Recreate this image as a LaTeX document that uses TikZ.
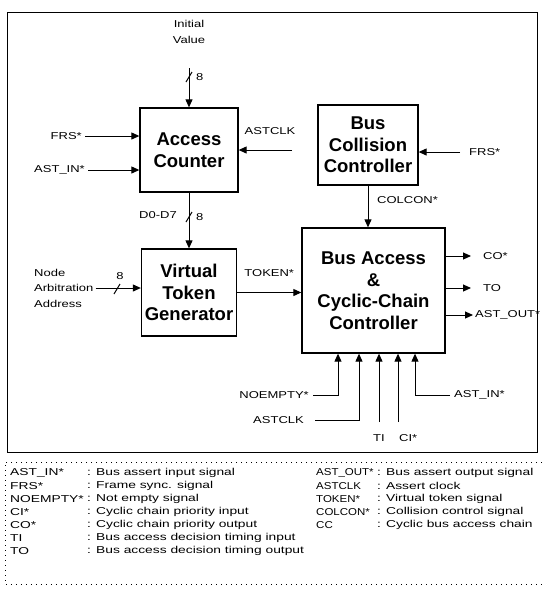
\documentclass[tikz,border=0pt]{standalone}
\usepackage{fontspec}
\setmainfont{Liberation Sans}
\newfontfamily\sigfont[FakeStretch=1.3]{Liberation Sans}
\newfontfamily\lgdfont[FakeStretch=1.38]{Liberation Sans}
\newfontfamily\lgnfont[FakeStretch=1.15]{Liberation Sans}
\usetikzlibrary{arrows.meta}

\begin{document}
\begin{tikzpicture}[x=1pt,y=-1pt,
    blk/.style={draw,line width=1.3pt,align=center,inner sep=0pt,
      font=\fontsize{18.5}{21.5}\selectfont\bfseries},
    sig/.style={font=\sigfont\fontsize{10}{15.5}\selectfont,inner sep=1pt},
    wire/.style={line width=1pt},
    arr/.style={wire,-{Triangle[length=8pt,width=7pt]}},
    lgd/.style={font=\lgdfont\fontsize{10}{12}\selectfont,inner sep=0pt,anchor=west}]
  \useasboundingbox (0,0) rectangle (542,598);
  % frame
  \draw[line width=1pt] (7,12) rectangle (537,452);

  % blocks
  \node[blk,minimum width=98pt,minimum height=84pt] (ac) at (189,150) {Access\\Counter};
  \node[blk,minimum width=95pt,minimum height=87pt] (vtg) at (189,292.5) {Virtual\\Token\\Generator};
  \node[blk,minimum width=100pt,minimum height=80pt] (bcc) at (368,145) {Bus\\Collision\\Controller};
  \node[blk,minimum width=143pt,minimum height=125pt] (bca) at (373.5,290.5)
    {Bus Access\\\&\\Cyclic-Chain\\Controller};

  % access counter inputs
  \node[sig,align=center] (iv) at (189,32) {Initial\\Value};
  \coordinate (ivend) at (189,68);
  \draw[arr] (ivend) -- (ac.north);
  \coordinate (s1) at (189,77);
  \draw[wire] ([shift={(-3,5)}]s1) -- ([shift={(3,-5)}]s1);
  \node[sig,anchor=west] (w1) at ([xshift=6pt]s1) {8};
  \node[sig,anchor=east] (frs1) at (83,136) {FRS*};
  \draw[arr] ([xshift=2pt]frs1.east) -- (frs1.east -| ac.west);
  \node[sig,anchor=east] (ai1) at (86,170) {AST\_IN*};
  \draw[arr] ([xshift=2pt]ai1.east) -- (ai1.east -| ac.west);
  \coordinate (ck1) at (292,150);
  \draw[arr] (ck1) -- (ck1 -| ac.east);
  \node[sig] (ckl1) at (270,131) {ASTCLK};

  % collision controller
  \node[sig,anchor=west] (frs2) at (468,152) {FRS*};
  \draw[arr] ([xshift=-8pt]frs2.west) -- (frs2.west -| bcc.east);
  \draw[arr] (bcc.south) -- (bcc.south |- bca.north);
  \node[sig,anchor=west] (cc) at (376,200) {COLCON*};

  % counter to token generator
  \draw[arr] (ac.south) -- (vtg.north);
  \coordinate (s2) at (189,217);
  \draw[wire] ([shift={(-3,5)}]s2) -- ([shift={(3,-5)}]s2);
  \node[sig,anchor=west] (w2) at ([xshift=6pt]s2) {8};
  \node[sig] (dd) at (158,215) {D0-D7};
  \node[sig,anchor=west,align=left] (naa) at (33,288) {Node\\Arbitration\\Address};
  \draw[arr] ([xshift=1pt]naa.east) -- (naa.east -| vtg.west);
  \coordinate (s3) at (117,289);
  \draw[wire] ([shift={(-3,5)}]s3) -- ([shift={(3,-5)}]s3);
  \node[sig] (w3) at (120,276) {8};
  \draw[arr] (vtg.east) -- (vtg.east -| bca.west) node[sig,midway,above=14pt] (tok) {TOKEN*};

  % outputs
  \node[sig,anchor=west] (co) at (482,256) {CO*};
  \draw[arr] (co.west -| bca.east) -- ([xshift=-11pt]co.west);
  \node[sig,anchor=west] (to) at (482,288) {TO};
  \draw[arr] (to.west -| bca.east) -- ([xshift=-11pt]to.west);
  \node[sig,anchor=west] (ao) at (474,315) {AST\_OUT*};
  \draw[arr] (ao.west -| bca.east) -- ([xshift=-1pt]ao.west);

  % bottom inputs
  \coordinate (xne) at (338,0);
  \coordinate (xck) at (359,0);
  \coordinate (xai) at (415,0);
  \node[sig,anchor=east] (ne) at (310,395) {NOEMPTY*};
  \draw[arr] ([xshift=3pt]ne.east) -| (xne |- bca.south);
  \node[sig,anchor=east] (ck2) at (305,420) {ASTCLK};
  \draw[arr] ([xshift=10pt]ck2.east) -| (xck |- bca.south);
  \coordinate (ti0) at (379,422);
  \draw[arr] (ti0) -- (ti0 |- bca.south);
  \node[sig] (ti) at (379,438) {TI};
  \coordinate (ci0) at (398,422);
  \draw[arr] (ci0) -- (ci0 |- bca.south);
  \node[sig,anchor=west] (ci) at (398,438) {CI*};
  \node[sig,anchor=west] (ai2) at (453,395) {AST\_IN*};
  \draw[arr] ([xshift=-3pt]ai2.west) -| (xai |- bca.south);

  % legend
  \draw[line width=1pt,dash pattern=on 1pt off 4pt] (542,462) -- (5,462) -- (5,584) -- (542,584);
  \foreach \nm/\ds [count=\i from 0] in {{AST\_IN*}/{Bus assert input signal},
      {FRS*}/{Frame sync. signal}, {NOEMPTY*}/{Not empty signal},
      {CI*}/{Cyclic chain priority input}, {CO*}/{Cyclic chain priority output},
      {TI}/{Bus access decision timing input}, {TO}/{Bus access decision timing output}}
  {
    \node[lgd] (ln\i) at (10,{473+13*\i}) {\nm};
    \node[lgd] (ld\i) at (87,{473+13*\i}) {: \ds};
  }
  \foreach \nm/\ds [count=\i from 0] in {{AST\_OUT*}/{Bus assert output signal},
      {ASTCLK}/{Assert clock}, {TOKEN*}/{Virtual token signal},
      {COLCON*}/{Collision control signal}, {CC}/{Cyclic bus access chain}}
  {
    \node[lgd,font=\lgnfont\fontsize{10}{12}\selectfont] (rn\i) at (316,{473+13*\i}) {\nm};
    \node[lgd] (rd\i) at (377,{473+13*\i}) {: \ds};
  }
\end{tikzpicture}
\end{document}
